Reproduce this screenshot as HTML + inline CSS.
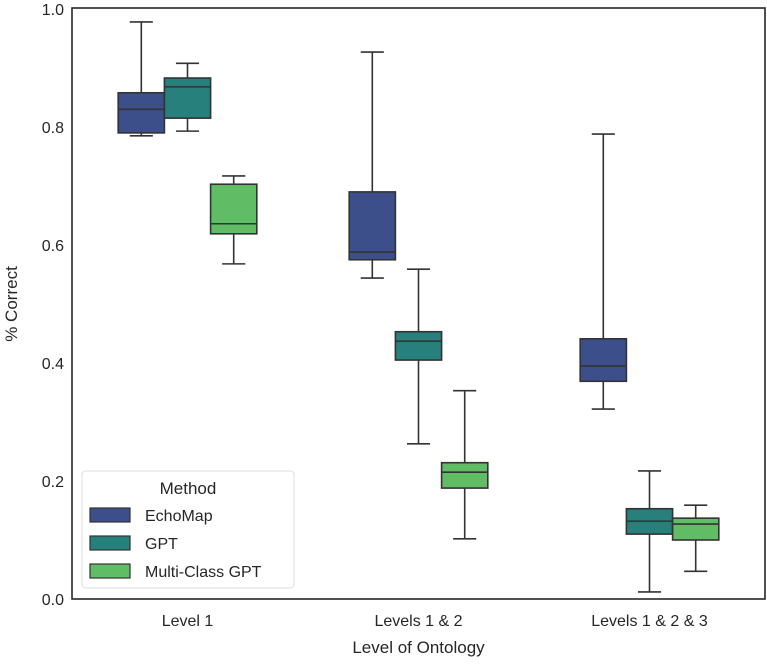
<!DOCTYPE html>
<html><head><meta charset="utf-8"><style>
body{margin:0;background:#fff;}
svg text{font-family:"Liberation Sans",sans-serif;fill:#262626;}
</style></head><body>
<svg id="chart" width="767" height="662" xmlns="http://www.w3.org/2000/svg">
<g id="plot"></g>
</svg>
<script>
const categories=["Level 1","Levels 1 & 2","Levels 1 & 2 & 3"];
const methods=["EchoMap","GPT","Multi-Class GPT"];
const colors=["#3d4f8a","#27807b","#60bd66"];
// [whislo,q1,med,q3,whishi] per category per method
const echoMap=[[0.785,0.790,0.830,0.858,0.978],[0.544,0.575,0.588,0.690,0.927],[0.322,0.369,0.395,0.441,0.788]];
const gpt=[[0.793,0.815,0.868,0.883,0.908],[0.263,0.405,0.437,0.453,0.559],[0.012,0.110,0.132,0.153,0.217]];
const multi=[[0.568,0.619,0.636,0.703,0.717],[0.102,0.188,0.215,0.231,0.353],[0.047,0.100,0.127,0.137,0.159]];
const yTicks=[0,0.2,0.4,0.6,0.8,1.0];
const series=[echoMap,gpt,multi];
const L=72,R=765,T=9,B=599;
const NS="http://www.w3.org/2000/svg";
const g=document.getElementById('plot');
function y(v){return B-(v-0)/(1-0)*(B-T);}
const gw=(R-L)/categories.length;
function xc(i){return L+gw*(i+0.5);}
const bw=gw*0.6/3;
function el(t,a,p){const e=document.createElementNS(NS,t);for(const k in a)e.setAttribute(k,a[k]);(p||g).appendChild(e);return e;}
yTicks.forEach(t=>{
  const tx=el('text',{x:L-8,y:y(t)+6,'text-anchor':'end','font-size':16});
  tx.textContent=t.toFixed(1);
  
  
});
categories.forEach((c,i)=>{
  const tx=el('text',{x:xc(i),y:B+27,'text-anchor':'middle','font-size':16});
  tx.textContent=c;
  
  
  series.forEach((s,m)=>{
    const d=s[i];
    const cx=xc(i)-bw*1.5+bw*(m+0.5);
    const bg=el('g',{});
    
    
    const st={stroke:'#333',fill:'none','stroke-width':1.6};
    el('line',Object.assign({x1:cx,x2:cx,y1:y(d[0]),y2:y(d[1])},st),bg);
    el('line',Object.assign({x1:cx,x2:cx,y1:y(d[3]),y2:y(d[4])},st),bg);
    el('line',Object.assign({x1:cx-bw/4,x2:cx+bw/4,y1:y(d[0]),y2:y(d[0])},st),bg);
    el('line',Object.assign({x1:cx-bw/4,x2:cx+bw/4,y1:y(d[4]),y2:y(d[4])},st),bg);
    el('rect',{x:cx-bw/2,y:y(d[3]),width:bw,height:y(d[1])-y(d[3]),fill:colors[m],stroke:'#333','stroke-width':1.6},bg);
    el('line',Object.assign({x1:cx-bw/2,x2:cx+bw/2,y1:y(d[2]),y2:y(d[2])},st),bg);
  });
});
const fr=el('rect',{x:L,y:T-1,width:R-L,height:B-T+1,fill:'none',stroke:'#262626','stroke-width':1.6});


const xt=el('text',{x:(L+R)/2,y:653,'text-anchor':'middle','font-size':17});
xt.textContent='Level of Ontology';


const yt=el('text',{x:0,y:0,'text-anchor':'middle','font-size':17,transform:'translate(17,'+((T+B)/2)+') rotate(-90)'});
yt.textContent='% Correct';


const lg=el('g',{});


el('rect',{x:82,y:471,width:212,height:117,rx:4,fill:'#fff','fill-opacity':0.85,stroke:'#ddd'},lg);
const lt=el('text',{x:188,y:494,'text-anchor':'middle','font-size':17},lg);
lt.textContent='Method';
methods.forEach((m,k)=>{
  const e=el('g',{},lg);
  
  
  el('rect',{x:90,y:508+k*28,width:40,height:14,fill:colors[k],stroke:'#333','stroke-width':1.2},e);
  const t=el('text',{x:145,y:521+k*28,'font-size':16},e);
  t.textContent=m;
});
</script>
</body></html>
